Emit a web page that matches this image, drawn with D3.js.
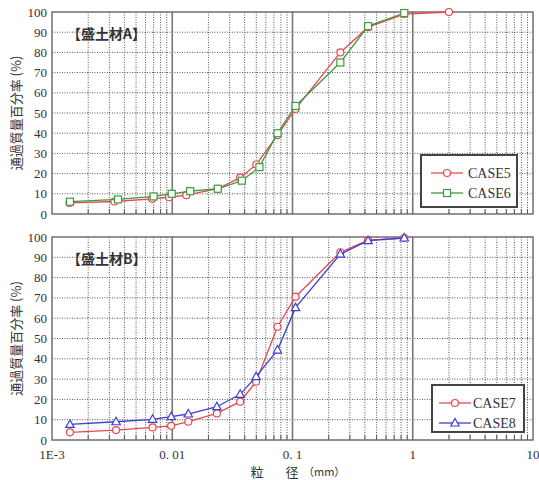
<!DOCTYPE html>
<html>
<head>
<meta charset="utf-8">
<script src="https://cdn.jsdelivr.net/npm/d3@7"></script>
<style>
  body { margin: 0; background: #fff; }
  svg { display: block; }
  .tick-label { font-family: "Liberation Serif", "DejaVu Serif", serif; font-size: 13px; fill: #333; }
  .cjk { font-family: "Noto Sans CJK JP", sans-serif; fill: #333; }
  .legend-text { font-family: "Liberation Serif", serif; font-size: 14px; fill: #333; }
</style>
</head>
<body>
<svg id="chart" width="539" height="480"></svg>
<script>
// particle sizes (mm) and percent passing
var sizes5 = [0.0014, 0.0033, 0.0068, 0.0094, 0.0131, 0.0239, 0.0367, 0.050, 0.075, 0.106, 0.25, 0.425, 0.85, 2.0];
var case5  = [5.5, 6.2, 7.5, 8.3, 9.3, 12.5, 18, 24.5, 39, 52, 80, 92.5, 99, 100];

var sizes6 = [0.00141, 0.00354, 0.0070, 0.0099, 0.0141, 0.0239, 0.0379, 0.0531, 0.075, 0.106, 0.25, 0.425, 0.85];
var case6  = [6.1, 7.2, 8.7, 10.0, 11.3, 12.5, 16.5, 23.2, 40, 53.5, 75, 93, 99.5];

var sizesB = [0.00141, 0.00341, 0.00686, 0.0098, 0.0136, 0.0235, 0.0367, 0.0498, 0.075, 0.106, 0.25, 0.425, 0.85];
var case7  = [3.8, 4.9, 6.2, 7.0, 9.0, 13.1, 18.9, 28.7, 55.8, 70.6, 92.5, 98.5, 99.5];
var case8  = [7.7, 9.0, 10.2, 11.5, 12.8, 16.4, 22.5, 31.2, 44.3, 65.2, 91.6, 98.2, 99.5];

var yTicks = [0, 10, 20, 30, 40, 50, 60, 70, 80, 90, 100];
var xMajor = [0.001, 0.01, 0.1, 1, 10];
var xMajorLabels = ["1E-3", "0. 01", "0. 1", "1", "10"];

var svg = d3.select("#chart");

var x = d3.scaleLog()
    .domain([0.001, 10])
    .range([52, 533]);

var yTop = d3.scaleLinear().domain([0, 100]).range([214, 12]);
var yBot = d3.scaleLinear().domain([0, 100]).range([440, 237]);

// minor decade lines 2..9
var xMinor = [];
xMajor.slice(0, 4).forEach(function(d) {
  for (var k = 2; k <= 9; k++) xMinor.push(d * k);
});

function drawPanel(y, title, series, legendBox) {
  var g = svg.append("g");
  var x0 = x.range()[0], x1 = x.range()[1];
  var yb = y.range()[0], yt = y.range()[1];

  // horizontal dotted grid
  g.selectAll(".hgrid")
    .data(yTicks.slice(1, -1))
    .enter().append("line")
      .attr("x1", x0).attr("x2", x1)
      .attr("y1", function(d) { return y(d); })
      .attr("y2", function(d) { return y(d); })
      .style("stroke", "#555")
      .style("stroke-width", 1)
      .style("stroke-dasharray", "1,1.5");

  // minor vertical dotted grid
  g.selectAll(".vminor")
    .data(xMinor)
    .enter().append("line")
      .attr("x1", function(d) { return x(d); })
      .attr("x2", function(d) { return x(d); })
      .attr("y1", yt).attr("y2", yb)
      .style("stroke", "#555")
      .style("stroke-width", 1)
      .style("stroke-dasharray", "1,1.5");

  // small solid ticks at the minor lines
  g.selectAll(".vtick")
    .data(xMinor)
    .enter().append("line")
      .attr("x1", function(d) { return x(d); })
      .attr("x2", function(d) { return x(d); })
      .attr("y1", yb - 5).attr("y2", yb)
      .style("stroke", "#555")
      .style("stroke-width", 1);

  // major decade lines
  g.selectAll(".vmajor")
    .data(xMajor.slice(1, -1))
    .enter().append("line")
      .attr("x1", function(d) { return x(d); })
      .attr("x2", function(d) { return x(d); })
      .attr("y1", yt).attr("y2", yb)
      .style("stroke", "#777")
      .style("stroke-width", 1.6);

  // frame
  g.append("rect")
    .attr("x", x0).attr("y", yt)
    .attr("width", x1 - x0).attr("height", yb - yt)
    .style("fill", "none")
    .style("stroke", "#666")
    .style("stroke-width", 1.4);

  // y tick labels
  g.selectAll(".ylab")
    .data(yTicks)
    .enter().append("text")
      .attr("class", "tick-label")
      .attr("x", x0 - 5)
      .attr("y", function(d) { return y(d); })
      .attr("dy", "0.35em")
      .style("text-anchor", "end")
      .text(function(d) { return d; });

  // y axis title
  g.append("text")
    .attr("class", "cjk")
    .attr("transform", "translate(16," + ((yt + yb) / 2) + ") rotate(-90)")
    .attr("dy", "0.35em")
    .style("text-anchor", "middle")
    .style("font-size", "13px")
    .text("通過質量百分率 (%)");

  // panel title
  g.append("text")
    .attr("class", "cjk")
    .attr("x", 67)
    .attr("y", yt + 22)
    .attr("dy", "0.35em")
    .style("font-size", "14px")
    .style("font-weight", "bold")
    .text(title);

  // series
  series.forEach(function(s) {
    var pts = s.sizes.map(function(d, i) { return {d: d, v: s.values[i]}; });
    var line = d3.line()
      .x(function(p) { return x(p.d); })
      .y(function(p) { return y(p.v); });
    g.append("path")
      .datum(pts)
      .attr("d", line)
      .style("fill", "none")
      .style("stroke", s.color)
      .style("stroke-width", 1.3);
    pts.forEach(function(p) {
      drawMarker(g, s.shape, x(p.d), y(p.v), s.color);
    });
  });

  // legend
  var lg = g.append("g");
  lg.append("rect")
    .attr("x", legendBox.x).attr("y", legendBox.y)
    .attr("width", legendBox.w).attr("height", legendBox.h)
    .style("fill", "#fff")
    .style("stroke", "#444")
    .style("stroke-width", 2);
  series.forEach(function(s, i) {
    var ly = legendBox.y + 18 + i * 20;
    lg.append("line")
      .attr("x1", legendBox.x + legendBox.lx).attr("x2", legendBox.x + legendBox.lx + 32)
      .attr("y1", ly).attr("y2", ly)
      .style("stroke", s.color)
      .style("stroke-width", 1.3);
    drawMarker(lg, s.shape, legendBox.x + legendBox.lx + 16, ly, s.color);
    lg.append("text")
      .attr("class", "legend-text")
      .attr("x", legendBox.x + legendBox.tx)
      .attr("y", ly)
      .attr("dy", "0.35em")
      .text(s.name);
  });
}

function drawMarker(g, shape, cx, cy, color) {
  if (shape == "circle") {
    g.append("circle")
      .attr("cx", cx).attr("cy", cy).attr("r", 3.5)
      .style("fill", "#fff").style("stroke", color).style("stroke-width", 1.2);
  } else if (shape == "square") {
    g.append("rect")
      .attr("x", cx - 3.5).attr("y", cy - 3.5).attr("width", 7).attr("height", 7)
      .style("fill", "#fff").style("stroke", color).style("stroke-width", 1.2);
  } else {
    g.append("path")
      .attr("d", "M" + cx + "," + (cy - 4.5) + "L" + (cx + 4.2) + "," + (cy + 3) + "L" + (cx - 4.2) + "," + (cy + 3) + "Z")
      .style("fill", "#fff").style("stroke", color).style("stroke-width", 1.2);
  }
}

drawPanel(yTop, "【盛土材A】", [
  {name: "CASE5", sizes: sizes5, values: case5, color: "#e8474f", shape: "circle"},
  {name: "CASE6", sizes: sizes6, values: case6, color: "#3f9a3f", shape: "square"}
], {x: 421, y: 155, w: 96, h: 52, lx: 10, tx: 47});

drawPanel(yBot, "【盛土材B】", [
  {name: "CASE7", sizes: sizesB, values: case7, color: "#e8474f", shape: "circle"},
  {name: "CASE8", sizes: sizesB, values: case8, color: "#3f3fd8", shape: "triangle"}
], {x: 432, y: 385, w: 92, h: 47, lx: 7, tx: 41});

// x tick labels (bottom panel only)
svg.selectAll(".xlab")
  .data(xMajor)
  .enter().append("text")
    .attr("class", "tick-label")
    .attr("x", function(d) { return x(d); })
    .attr("y", 454)
    .attr("dy", "0.35em")
    .style("text-anchor", "middle")
    .text(function(d, i) { return xMajorLabels[i]; });

// x axis title
svg.append("text").attr("class", "cjk")
  .attr("x", 257).attr("y", 472).attr("dy", "0.35em")
  .style("text-anchor", "middle").style("font-size", "13px")
  .text("粒");
svg.append("text").attr("class", "cjk")
  .attr("x", 292).attr("y", 472).attr("dy", "0.35em")
  .style("text-anchor", "middle").style("font-size", "13px")
  .text("径");
svg.append("text").attr("class", "cjk")
  .attr("x", 303).attr("y", 472).attr("dy", "0.35em")
  .style("font-size", "11px")
  .text("（mm）");
</script>
</body>
</html>
